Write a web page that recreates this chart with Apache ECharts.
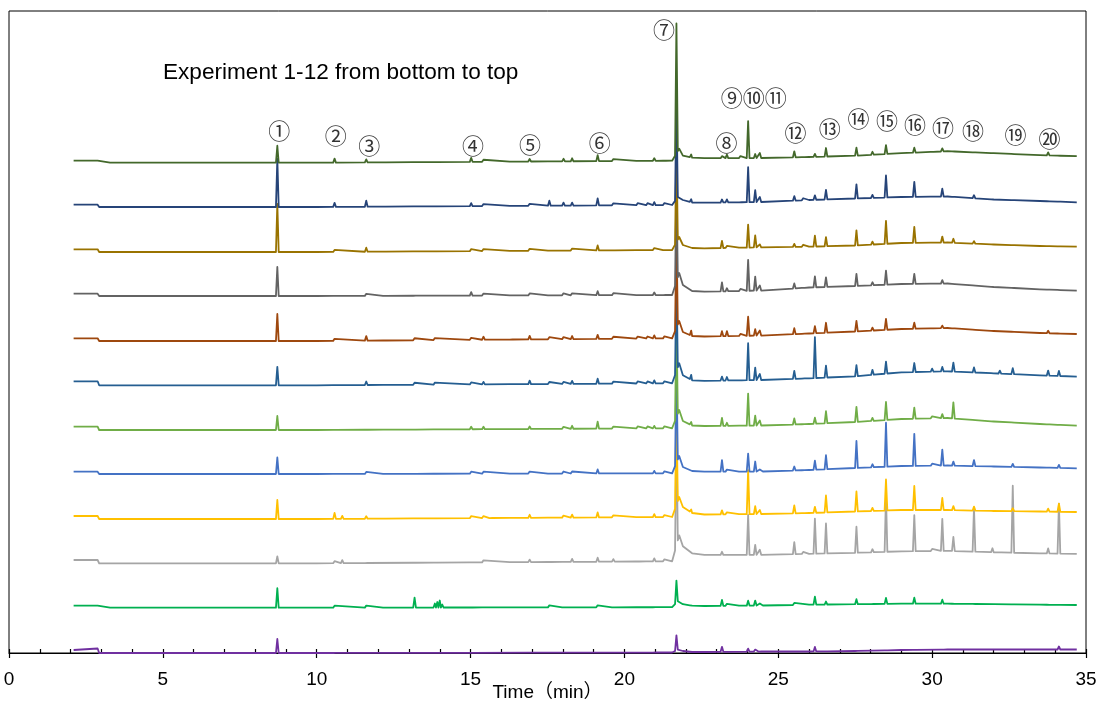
<!DOCTYPE html>
<html>
<head>
<meta charset="utf-8">
<title>Chromatograms, Experiment 1-12</title>
<script src="https://cdn.jsdelivr.net/npm/echarts@6/dist/echarts.min.js"></script>
<style>
  html, body { margin: 0; padding: 0; background: #ffffff; }
  #chart { width: 1099px; height: 704px; }
</style>
</head>
<body>
<div id="chart"></div>
<script>
// ---- Data -------------------------------------------------------------
// Experiments, listed bottom to top of the stack
const experiments = ['Experiment 1', 'Experiment 2', 'Experiment 3', 'Experiment 4',
  'Experiment 5', 'Experiment 6', 'Experiment 7', 'Experiment 8',
  'Experiment 9', 'Experiment 10', 'Experiment 11', 'Experiment 12'];

// Vertical offset of each chromatogram in the stack (signal units)
const stackOffsets = [0, 45.3, 89.7, 134, 179, 223, 267.7, 312, 357, 401, 446, 490.3];

// Baseline knots: retention time (min) and baseline level above each offset
const baselineTimes = [2.1, 2.88, 2.93, 10, 21.55, 21.78, 21.9, 22.2, 22.6, 24.5, 26, 27.5, 29, 30.5, 32, 33.5, 34.7];
const baselineExp1  = [3, 4.5, 0, 0, 0.5, 4, 2, 1, 1, 1.5, 1.5, 2, 3, 3.5, 3.5, 3.5, 3.5];
const baselineExp2  = [2, 2, 0, 0, 0.5, 8, 3.5, 2, 1.7, 2.2, 3, 3.5, 4, 4, 3.5, 3, 2.7];
const baselineExp3  = [3.3, 3.3, 0, 0, 2, 28, 17, 10, 8.5, 8.5, 9.5, 10.5, 12, 12.5, 11, 10, 9.5];
const baselineExp4  = [3, 3, 0, 0, 2, 22, 12, 6, 4.5, 5, 6, 7.5, 9, 9, 8, 7.5, 7];
const baselineExp5  = [2.3, 2.3, 0, 0, 0.7, 18, 7, 3, 2.3, 2.5, 4, 6, 8, 8.5, 7.5, 6.5, 5.7];
const baselineExp6  = [3.3, 3.3, 0, 0, 1.7, 20, 9, 4.5, 4, 4.5, 6, 8, 11, 12, 8.5, 6, 4.3];
const baselineExp7  = [4, 4, 0, 0, 2, 22, 10, 5, 4.5, 5.3, 7, 9, 13, 14, 12, 10, 8.7];
const baselineExp8  = [2.7, 2.7, 0, 0, 2.7, 20, 9, 5, 4.5, 5.5, 7.5, 9.5, 12, 13, 10, 8, 7];
const baselineExp9  = [2.3, 2.3, 0, 0, 1, 23, 11, 5, 4.3, 5.5, 8.5, 10, 12, 12.5, 9, 6.7, 5.3];
const baselineExp10 = [2.7, 2.7, 0, 0, 2, 15, 7, 4, 3.7, 4.7, 5.3, 6.5, 9, 9.5, 7.5, 6, 5.3];
const baselineExp11 = [2.3, 2.3, 0, 0, 2, 12, 7, 4.5, 4.3, 5, 7, 8.5, 10, 10.5, 7.5, 6, 4.7];
const baselineExp12 = [2, 2, 0, 0, 2, 14, 7, 5, 4.5, 4.7, 5.7, 7, 9.5, 11.5, 9.5, 7.5, 6.5];

// Retention times of the resolved peaks (min)
const peakTimes = [3.33, 8.72, 10.58, 10.83, 11.61, 12.2, 13.18, 13.84, 13.92, 14.0,
  14.08, 15.02, 15.42, 15.66, 16.32, 16.92, 17.56, 18.02, 18.3, 19.13,
  19.64, 20.43, 20.75, 20.97, 21.3, 21.69, 22.17, 23.17, 23.33, 23.77,
  24.02, 24.25, 24.4, 25.52, 25.81, 26.19, 26.55, 27.54, 28.06, 28.5,
  29.42, 30.0, 30.33, 30.69, 31.36, 31.96, 32.2, 32.62, 33.77, 34.12];

// Peak heights above baseline, one entry per retention time
const peaksExp1 = [0, 14, 0.5, 0, 0.5, 0, 0.5, 0.5, 0, 0,
  0, 0.5, 0, 0, 0, 0.5, 0.5, 0, 0.5, 0.5,
  0, 0, 0, 0.5, 0, 15, 1, 5, 1, 0,
  3, 2, 1, 0, 0, 4.5, 1, 1.5, 0, 1,
  0.5, 0, 1, 0, 1, 0, 0, 1, 0, 3];
const peaksExp2 = [0.5, 19.5, 2, 0, 2, 0.5, 10, 4, 5.5, 7,
  3, 1, 1, 0, 0.5, 1.5, 2, 1, 1, 2,
  0.5, 0.5, 1, 1.5, 1, 22, 2, 6, 2, 1,
  5, 5, 2, 2, 0, 8, 3, 5, 1, 6,
  6, 1, 4, 2, 2, 0, 0, 1, 1, 2];
const peaksExp3 = [0.5, 7, 2, 3, 1, 0, 1, 0.5, 0, 0,
  0, 1, 2, 0, 0.5, 2.5, 1, 1.5, 3, 4,
  2.5, 1, 1.5, 3, 2, 120, 3, 3, 2, 1,
  40, 10, 5, 12, 2, 35, 30, 26, 3, 56,
  36, 2, 32, 14, 44, 4, 2, 67, 5, 50];
const peaksExp4 = [1, 19, 6, 3, 2.5, 1, 1.5, 1.5, 0, 0,
  0, 2, 2, 1.5, 1, 3, 1, 2, 3, 5,
  2, 1, 1.5, 3, 2, 100, 3, 4, 2, 1.5,
  44, 8, 4, 8, 1, 6, 17, 20, 3, 31,
  24, 1, 12, 4, 4, 1, 0, 3, 3, 8];
const peaksExp5 = [1, 16.5, 1.5, 0, 2, 0.5, 1, 1, 0, 0,
  0, 2, 2, 0, 1, 2, 1.5, 2, 2, 4,
  1.5, 1, 1.5, 2.5, 2, 100, 2, 11.5, 2, 1,
  18, 10, 2, 4, 1, 9, 14, 27, 3, 44,
  32, 2, 16, 4, 6, 1.5, 0, 3, 1.5, 3];
const peaksExp6 = [1, 14, 1, 0, 1.5, 0.5, 1, 1, 0, 0,
  0, 2.5, 2.5, 0, 1, 2.5, 1.5, 2, 3, 7,
  2, 2, 2, 2.5, 2, 100, 3, 8, 3, 1.5,
  32, 10, 5, 6, 1, 6, 12, 15, 3, 18,
  11, 2, 4, 16, 2, 1, 0, 1, 2, 1];
const peaksExp7 = [1, 18.5, 1.5, 0, 3.5, 1, 2, 2, 0, 0,
  0, 2, 2.5, 0, 1, 3.5, 2, 2, 3, 5,
  2, 2, 2, 3, 2, 100, 5, 4, 3.5, 1.5,
  37, 12.5, 6, 8, 1, 41, 12, 11, 5, 12,
  9, 3, 4.5, 9, 5, 2, 3, 6, 5, 5];
const peaksExp8 = [1, 27, 2, 0, 4.5, 1, 2, 2, 0, 0,
  0, 2, 3, 0, 1, 3.5, 2, 2, 3, 4,
  2, 2, 2, 3, 2, 100, 5, 5, 5, 2,
  19, 6.5, 5, 6, 1, 7, 10, 10.5, 3, 11,
  6, 1, 2.5, 2, 2, 1.5, 0, 1.5, 2.5, 1];
const peaksExp9 = [1, 29, 1, 0, 2, 1, 1, 1, 0, 0,
  0, 3.5, 2, 0, 1, 2, 1, 2, 2, 4,
  2, 1, 1, 2.5, 1.5, 100, 2, 9, 3, 2,
  31, 14, 5, 5, 1, 11, 9.5, 12, 3, 14,
  10, 1, 3.5, 2, 2, 2, 0, 1, 1.5, 1];
const peaksExp10 = [1, 48, 2, 0, 4, 0.5, 1, 1, 0, 0,
  0, 2, 2, 0, 1, 2, 1, 1.5, 2, 5,
  1, 1, 1, 2, 1, 100, 2, 7, 2, 1.5,
  23, 12, 3, 3, 2, 11, 9, 15, 3, 23,
  16, 1, 6, 4, 2.5, 1.5, 0, 1, 2, 1];
const peaksExp11 = [1.5, 48, 4, 0, 6, 1, 1, 1, 0, 0,
  0, 3, 2, 0, 1, 2, 5, 3, 3, 7,
  2, 2, 2, 3, 2, 100, 3, 3, 3, 1.5,
  35, 12, 5, 4.5, 2, 4.5, 9.5, 14, 3, 22,
  15, 1, 8, 1, 3, 2, 0, 1, 2, 1];
const peaksExp12 = [1, 17, 4, 0, 3, 1, 1, 1, 0, 0,
  0, 4, 2, 0, 1, 2.5, 1, 2.5, 3, 6,
  2, 1.5, 1.5, 2.5, 1.5, 130, 3, 2, 3.5, 2,
  37, 4, 5, 6, 1, 3, 8.5, 8, 3, 9,
  5, 1, 3, 1, 2, 1, 0, 1.5, 3, 1.5];

// Compound numbers written above the peaks: text, retention time, level
const compoundLabels = ['①', '②', '③', '④', '⑤', '⑥', '⑦', '⑧', '⑨⑩⑪', '⑫',
  '⑬', '⑭', '⑮', '⑯', '⑰', '⑱', '⑲', '⑳'];
const compoundLabelTimes = [8.78, 10.62, 11.71, 15.08, 16.93, 19.2, 21.29, 23.32, 24.2, 25.56,
  26.67, 27.61, 28.53, 29.44, 30.35, 31.33, 32.71, 33.81];
const compoundLabelLevels = [522, 517, 507, 507, 508, 510.3, 623.7, 510.3, 555.7, 520.7,
  524.7, 534, 532.3, 528.7, 525.7, 522.3, 518, 514.7];

// Axis
const timeMin = 0;
const timeMax = 35;
const timeStep = 5;
const chartTitle = 'Experiment 1-12 from bottom to top';
const timeAxisName = 'Time（min）';

// ---- Styling ----------------------------------------------------------
const traceColors = ['#7030A0', '#00B050', '#A5A5A5', '#FFC000', '#4472C4', '#70AD47',
  '#255E91', '#9E480E', '#636363', '#997300', '#264478', '#43682B'];
const PEAK_HALF_WIDTH = 0.045; // min
const latinFont = '"Liberation Sans", Arial, "Noto Sans CJK SC", sans-serif';

const baselines = [baselineExp1, baselineExp2, baselineExp3, baselineExp4, baselineExp5, baselineExp6,
  baselineExp7, baselineExp8, baselineExp9, baselineExp10, baselineExp11, baselineExp12];
const peakTables = [peaksExp1, peaksExp2, peaksExp3, peaksExp4, peaksExp5, peaksExp6,
  peaksExp7, peaksExp8, peaksExp9, peaksExp10, peaksExp11, peaksExp12];

// Baseline level at time t, following the straight segments between knots
function baselineAt(levels, t) {
  if (t <= baselineTimes[0]) return levels[0];
  for (let i = 1; i < baselineTimes.length; i++) {
    if (t <= baselineTimes[i]) {
      const t0 = baselineTimes[i - 1], t1 = baselineTimes[i];
      const f = (t - t0) / (t1 - t0);
      return levels[i - 1] + f * (levels[i] - levels[i - 1]);
    }
  }
  return levels[levels.length - 1];
}

// One chromatogram: baseline knots plus each peak drawn as foot-apex-foot
function buildTrace(offset, levels, heights) {
  const pts = baselineTimes.map((t, i) => [t, offset + levels[i]]);
  peakTimes.forEach((t, i) => {
    const h = heights[i];
    if (!h) return;
    const tl = t - PEAK_HALF_WIDTH, tr = t + PEAK_HALF_WIDTH;
    pts.push([tl, offset + baselineAt(levels, tl)]);
    pts.push([t, offset + baselineAt(levels, t) + h]);
    pts.push([tr, offset + baselineAt(levels, tr)]);
  });
  pts.sort((a, b) => a[0] - b[0]);
  return pts;
}

const traceSeries = experiments.map((name, k) => ({
  name: name,
  type: 'line',
  xAxisIndex: 0,
  data: buildTrace(stackOffsets[k], baselines[k], peakTables[k]),
  showSymbol: false,
  symbol: 'none',
  silent: true,
  lineStyle: { color: traceColors[k], width: 1.8, join: 'round' },
  itemStyle: { color: traceColors[k] },
  animation: false
}));

const labelSeries = {
  name: 'compounds',
  type: 'scatter',
  xAxisIndex: 0,
  silent: true,
  symbolSize: 1,
  itemStyle: { color: 'rgba(0,0,0,0)' },
  z: 5,
  data: compoundLabels.map((txt, i) => ({
    name: txt,
    value: [compoundLabelTimes[i], compoundLabelLevels[i]]
  })),
  label: {
    show: true,
    position: 'inside',
    formatter: '{b}',
    fontSize: 22,
    fontFamily: '"Noto Sans CJK SC", "Noto Sans CJK JP", sans-serif',
    color: '#000'
  },
  animation: false
};

const chart = echarts.init(document.getElementById('chart'), null, { renderer: 'canvas' });
chart.setOption({
  backgroundColor: '#ffffff',
  animation: false,
  title: {
    text: chartTitle,
    left: 163,
    top: 61,
    padding: 0,
    textStyle: { fontSize: 22.6, fontWeight: 'normal', fontFamily: latinFont, color: '#000' }
  },
  grid: {
    left: 9, right: 13, top: 11, bottom: 51,
    outerBoundsMode: 'none',
    containLabel: false,
    show: true, borderColor: '#000', borderWidth: 1, backgroundColor: 'transparent'
  },
  xAxis: [
    {
      type: 'value',
      position: 'bottom',
      min: timeMin, max: timeMax, interval: timeStep,
      axisLine: { show: true, onZero: false, lineStyle: { color: '#000', width: 1.2 } },
      axisTick: { show: true, inside: false, length: 5, lineStyle: { color: '#000', width: 1.2 } },
      minorTick: { show: false },
      splitLine: { show: false },
      axisLabel: { fontSize: 19, fontFamily: latinFont, color: '#000', margin: 17 },
      name: timeAxisName,
      nameLocation: 'middle',
      nameGap: 30,
      nameMoveOverlap: false,
      nameTextStyle: { fontSize: 19, fontFamily: latinFont, color: '#000' }
    },
    {
      type: 'value',
      position: 'bottom',
      min: timeMin, max: timeMax, interval: timeStep,
      axisLine: { show: false, onZero: false },
      axisTick: { show: true, inside: true, length: 4, lineStyle: { color: '#000', width: 1.2 } },
      minorTick: { show: true, splitNumber: 5, length: 4, lineStyle: { color: '#000', width: 1.2 } },
      splitLine: { show: false },
      axisLabel: { show: false }
    }
  ],
  yAxis: {
    type: 'value',
    min: 0, max: 642,
    show: false
  },
  series: traceSeries.concat([labelSeries])
});
</script>
</body>
</html>
